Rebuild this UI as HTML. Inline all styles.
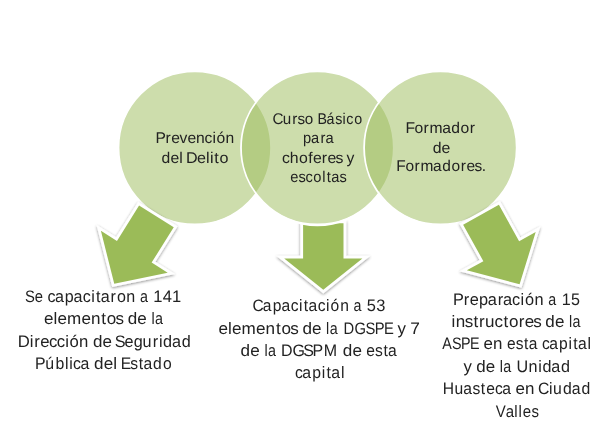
<!DOCTYPE html>
<html lang="es">
<head>
<meta charset="utf-8">
<title>Capacitación</title>
<style>
html,body{margin:0;padding:0;background:#fff;}
body{width:608px;height:428px;overflow:hidden;}
svg{display:block;}
text{font-family:"Liberation Sans",sans-serif;fill:#222222;text-rendering:geometricPrecision;}
</style>
</head>
<body>
<svg width="608" height="428" viewBox="0 0 608 428">
<defs>
<filter id="sh" x="-20%" y="-20%" width="140%" height="140%"><feGaussianBlur in="SourceAlpha" stdDeviation="1.4" result="b"/><feOffset in="b" dx="0" dy="1.3" result="o"/><feComponentTransfer in="o" result="s"><feFuncA type="linear" slope="0.45"/></feComponentTransfer><feMerge><feMergeNode in="s"/><feMergeNode in="SourceGraphic"/></feMerge></filter>
</defs>
<rect width="608" height="428" fill="#ffffff"/>
<g filter="url(#sh)"><path transform="translate(323.3 289.8) rotate(0.0)" d="M-20.20,-66.50 L20.20,-66.50 L20.20,-31.30 L39.10,-31.30 L0.00,0.00 L-39.10,-31.30 L-20.20,-31.30Z" fill="#9BBB59" stroke="#ffffff" stroke-width="5.6" stroke-linejoin="miter" stroke-miterlimit="10" paint-order="stroke"/></g>
<ellipse cx="317.4" cy="147.85" rx="78.10" ry="78.30" fill="#ffffff"/>
<ellipse cx="194.8" cy="147.85" rx="76.3" ry="76.6" fill="#9BBB59" fill-opacity="0.5" stroke="#ffffff" stroke-width="1.8"/>
<ellipse cx="317.4" cy="147.85" rx="76.4" ry="76.6" fill="#9BBB59" fill-opacity="0.5" stroke="#ffffff" stroke-width="1.8"/>
<ellipse cx="440.4" cy="147.85" rx="76.3" ry="76.6" fill="#9BBB59" fill-opacity="0.5" stroke="#ffffff" stroke-width="1.8"/>
<g filter="url(#sh)"><path transform="translate(114.26 283.8) rotate(32.02)" d="M-20.45,-79.50 L20.45,-79.50 L20.45,-37.80 L39.40,-37.80 L0.00,0.00 L-39.40,-37.80 L-20.45,-37.80Z" fill="#9BBB59" stroke="#ffffff" stroke-width="5.6" stroke-linejoin="miter" stroke-miterlimit="10" paint-order="stroke"/></g>
<g filter="url(#sh)"><path transform="translate(519.6 284.28) rotate(-29.04)" d="M-20.45,-79.50 L20.45,-79.50 L20.45,-37.80 L39.40,-37.80 L0.00,0.00 L-39.40,-37.80 L-20.45,-37.80Z" fill="#9BBB59" stroke="#ffffff" stroke-width="5.6" stroke-linejoin="miter" stroke-miterlimit="10" paint-order="stroke"/></g>
<g opacity="0.999">
<text y="143" font-size="15.5"><tspan x="155.6 165.6 171.2 179.6 187.4 196.0 204.6 212.5 216.5 225.5" textLength="78.38" lengthAdjust="spacingAndGlyphs">Prevención</tspan></text>
<text y="163" font-size="15.5"><tspan x="161.5 170.4 179.2" textLength="20.99" lengthAdjust="spacingAndGlyphs">del</tspan> <tspan x="186.1 197.1 206.0 209.9 214.3 219.5" textLength="41.23" lengthAdjust="spacingAndGlyphs">Delito</tspan></text>
<text y="124" font-size="15.5"><tspan x="272.4 282.7 292.2 297.4 304.7" textLength="40.53" lengthAdjust="spacingAndGlyphs">Curso</tspan> <tspan x="317.4 326.6 335.2 342.6 346.2 354.2" textLength="42.80" lengthAdjust="spacingAndGlyphs">Básico</tspan></text>
<text y="143" font-size="15.5"><tspan x="303.1 311.1 320.6 325.6" textLength="29.37" lengthAdjust="spacingAndGlyphs">para</tspan></text>
<text y="163" font-size="15.5"><tspan x="281.9 289.7 298.9 308.3 313.1 321.8 327.4 335.4" textLength="60.75" lengthAdjust="spacingAndGlyphs">choferes</tspan> <tspan x="346.5" textLength="7.87" lengthAdjust="spacingAndGlyphs">y</tspan></text>
<text y="182" font-size="15.5"><tspan x="290.2 298.4 305.4 313.3 322.2 326.7 331.2 339.6" textLength="53.74" lengthAdjust="spacingAndGlyphs">escoltas</tspan></text>
<text y="133" font-size="15.5"><tspan x="405.6 414.6 423.6 429.6 442.2 451.3 460.5 469.7" textLength="67.97" lengthAdjust="spacingAndGlyphs">Formador</tspan></text>
<text y="153" font-size="15.5"><tspan x="432.7 441.6" textLength="17.64" lengthAdjust="spacingAndGlyphs">de</tspan></text>
<text y="171" font-size="15.5"><tspan x="396.3 405.4 414.4 420.4 433.1 442.3 451.6 460.8 466.5 474.4 481.7" textLength="87.79" lengthAdjust="spacingAndGlyphs">Formadores.</tspan></text>
<text y="302" font-size="16.6"><tspan x="25.0 34.8" textLength="18.12" lengthAdjust="spacingAndGlyphs">Se</tspan> <tspan x="47.6 55.0 64.8 73.5 82.8 91.2 96.0 100.7 110.6 117.0 126.3" textLength="83.19" lengthAdjust="spacingAndGlyphs">capacitaron</tspan> <tspan x="139.9" textLength="7.94" lengthAdjust="spacingAndGlyphs">a</tspan> <tspan x="153.3 162.7 172.1" textLength="27.60" lengthAdjust="spacingAndGlyphs">141</tspan></text>
<text y="324" font-size="16.6"><tspan x="44.0 53.5 57.4 67.0 81.5 90.9 101.3 106.8 115.6" textLength="78.63" lengthAdjust="spacingAndGlyphs">elementos</tspan> <tspan x="127.7 137.3" textLength="18.95" lengthAdjust="spacingAndGlyphs">de</tspan> <tspan x="151.4 155.0" textLength="11.11" lengthAdjust="spacingAndGlyphs">la</tspan></text>
<text y="347" font-size="16.6"><tspan x="17.7 29.8 34.2 40.2 48.9 56.7 65.2 69.4 79.0" textLength="69.65" lengthAdjust="spacingAndGlyphs">Dirección</tspan> <tspan x="92.9 102.5" textLength="18.92" lengthAdjust="spacingAndGlyphs">de</tspan> <tspan x="114.8 124.6 133.8 142.6 152.7 158.9 163.1 171.9 181.7" textLength="73.84" lengthAdjust="spacingAndGlyphs">Seguridad</tspan></text>
<text y="369" font-size="16.6"><tspan x="35.0 45.3 55.4 65.0 69.2 73.1 80.5" textLength="51.98" lengthAdjust="spacingAndGlyphs">Pública</tspan> <tspan x="94.0 103.7 113.2" textLength="22.80" lengthAdjust="spacingAndGlyphs">del</tspan> <tspan x="120.7 130.3 138.8 143.4 153.0 162.9" textLength="48.78" lengthAdjust="spacingAndGlyphs">Estado</tspan></text>
<text y="311" font-size="16.6"><tspan x="252.6 262.7 272.7 281.4 290.7 299.0 303.8 308.6 317.7 326.0 330.5 340.2" textLength="90.27" lengthAdjust="spacingAndGlyphs">Capacitación</tspan> <tspan x="353.5" textLength="7.94" lengthAdjust="spacingAndGlyphs">a</tspan> <tspan x="366.7 376.2" textLength="18.33" lengthAdjust="spacingAndGlyphs">53</tspan></text>
<text y="334" font-size="16.6"><tspan x="218.4 227.9 231.9 241.5 256.0 265.4 275.9 281.4 290.3" textLength="78.90" lengthAdjust="spacingAndGlyphs">elementos</tspan> <tspan x="302.4 312.0" textLength="19.01" lengthAdjust="spacingAndGlyphs">de</tspan> <tspan x="326.1 329.8" textLength="11.11" lengthAdjust="spacingAndGlyphs">la</tspan> <tspan x="343.4 354.6 365.5 374.7 383.9" textLength="51.75" lengthAdjust="spacingAndGlyphs">DGSPE</tspan> <tspan x="397.6" textLength="8.43" lengthAdjust="spacingAndGlyphs">y</tspan> <tspan x="410.3" textLength="9.66" lengthAdjust="spacingAndGlyphs">7</tspan></text>
<text y="356" font-size="16.6"><tspan x="240.6 250.2" textLength="19.02" lengthAdjust="spacingAndGlyphs">de</tspan> <tspan x="264.4 268.0" textLength="11.11" lengthAdjust="spacingAndGlyphs">la</tspan> <tspan x="281.1 292.4 303.3 312.5 323.8" textLength="58.64" lengthAdjust="spacingAndGlyphs">DGSPM</tspan> <tspan x="342.8 352.4" textLength="19.02" lengthAdjust="spacingAndGlyphs">de</tspan> <tspan x="366.3 375.0 383.4 388.1" textLength="29.55" lengthAdjust="spacingAndGlyphs">esta</tspan></text>
<text y="378" font-size="16.6"><tspan x="294.9 302.3 312.2 321.7 326.5 331.3 340.9" textLength="45.58" lengthAdjust="spacingAndGlyphs">capital</tspan></text>
<text y="305" font-size="16.6"><tspan x="452.9 463.7 469.7 479.1 487.7 497.8 503.1 512.1 520.5 524.9 534.6" textLength="88.03" lengthAdjust="spacingAndGlyphs">Preparación</tspan> <tspan x="548.2" textLength="7.94" lengthAdjust="spacingAndGlyphs">a</tspan> <tspan x="561.8 570.9" textLength="17.94" lengthAdjust="spacingAndGlyphs">15</tspan></text>
<text y="327" font-size="16.6"><tspan x="451.6 455.7 464.8 473.4 479.0 485.0 494.4 503.4 509.0 518.8 524.8 533.3" textLength="88.07" lengthAdjust="spacingAndGlyphs">instructores</tspan> <tspan x="545.3 554.9" textLength="18.91" lengthAdjust="spacingAndGlyphs">de</tspan> <tspan x="568.9 572.5" textLength="11.11" lengthAdjust="spacingAndGlyphs">la</tspan></text>
<text y="349" font-size="16.6"><tspan x="442.2 451.9 461.0 470.1" textLength="38.22" lengthAdjust="spacingAndGlyphs">ASPE</tspan> <tspan x="483.6 492.9" textLength="18.82" lengthAdjust="spacingAndGlyphs">en</tspan> <tspan x="507.1 515.7 524.1 528.7" textLength="29.33" lengthAdjust="spacingAndGlyphs">esta</tspan> <tspan x="541.9 549.2 559.1 568.6 573.3 578.1 587.6" textLength="45.27" lengthAdjust="spacingAndGlyphs">capital</tspan></text>
<text y="372" font-size="16.6"><tspan x="463.6" textLength="8.36" lengthAdjust="spacingAndGlyphs">y</tspan> <tspan x="476.2 485.8" textLength="18.85" lengthAdjust="spacingAndGlyphs">de</tspan> <tspan x="499.7 503.3" textLength="11.11" lengthAdjust="spacingAndGlyphs">la</tspan> <tspan x="516.5 528.6 538.3 542.5 551.2 561.0" textLength="51.19" lengthAdjust="spacingAndGlyphs">Unidad</tspan></text>
<text y="394" font-size="16.6"><tspan x="442.7 454.4 463.3 472.4 480.8 486.2 494.9 502.2" textLength="66.07" lengthAdjust="spacingAndGlyphs">Huasteca</tspan> <tspan x="515.5 524.9" textLength="18.84" lengthAdjust="spacingAndGlyphs">en</tspan> <tspan x="537.9 549.0 553.1 562.9 571.7 581.5" textLength="50.00" lengthAdjust="spacingAndGlyphs">Ciudad</tspan></text>
<text y="417" font-size="16.6"><tspan x="495.8 505.7 514.3 518.6 522.8 531.5" textLength="40.86" lengthAdjust="spacingAndGlyphs">Valles</tspan></text>
</g>
</svg>
</body>
</html>
